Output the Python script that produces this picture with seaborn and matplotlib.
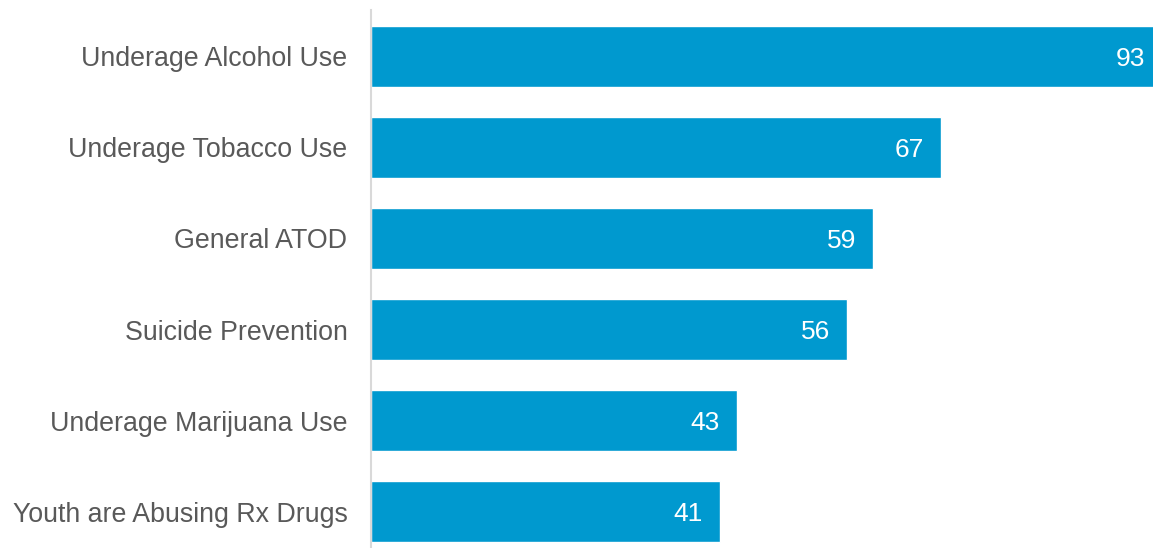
import matplotlib
matplotlib.use("Agg")
import matplotlib.pyplot as plt
import seaborn as sns
import pandas as pd

categories = ["Underage Alcohol Use", "Underage Tobacco Use", "General ATOD",
              "Suicide Prevention", "Underage Marijuana Use", "Youth are Abusing Rx Drugs"]
values = [93, 67, 59, 56, 43, 41]

sns.set_theme(style="white")
plt.rcParams['font.family'] = ['Liberation Sans', 'DejaVu Sans']

df = pd.DataFrame({"category": categories, "value": values})

W, H = 1153, 548
fig = plt.figure(figsize=(W / 100, H / 100), dpi=100)
ax = fig.add_axes([371 / W, 0, 1 - 371 / W, 1 - 10 / H])

sns.barplot(data=df, x="value", y="category", orient="h", color="#0099CF",
            saturation=1, width=0.67, ax=ax)

ax.set_xlim(0, 92)
ax.set_ylim(5.4, -0.51)
ax.set_xlabel("")
ax.set_ylabel("")
ax.set_xticks([])
for s in ["top", "right", "bottom"]:
    ax.spines[s].set_visible(False)
ax.spines["left"].set_color("#D9D9D9")
ax.spines["left"].set_linewidth(1.5)
ax.tick_params(axis="y", length=0, pad=17, labelsize=19.3, labelcolor="#595959")

for i, v in enumerate(values):
    ax.annotate(str(v), xy=(v, i), xytext=(-12, 0), textcoords="offset points",
                ha="right", va="center_baseline", color="white", fontsize=19,
                annotation_clip=False)

fig.savefig("out.png", dpi=100)
